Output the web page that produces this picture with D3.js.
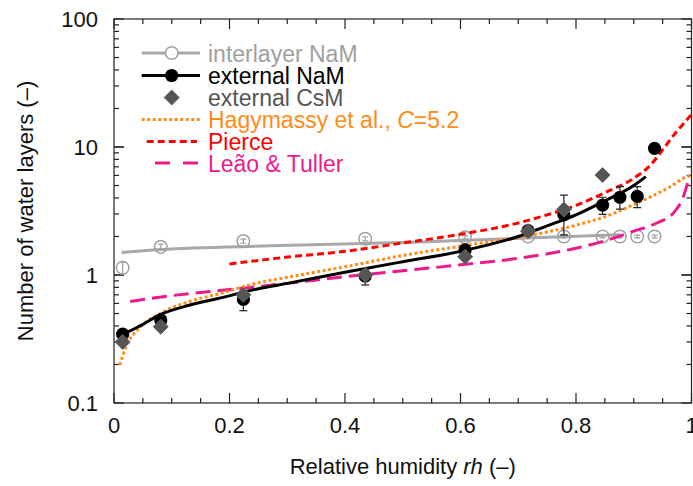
<!DOCTYPE html>
<html><head><meta charset="utf-8">
<script src="https://cdn.jsdelivr.net/npm/d3@7"></script>
<style>body{margin:0;background:#fff}svg{display:block}text{font-family:"Liberation Sans",Arial,Helvetica,sans-serif}</style>
</head><body><svg id="c" width="693" height="486"></svg>
<script>
// ---- data ----
const xTicks = [0, 0.2, 0.4, 0.6, 0.8, 1];
const xTickLabels = ["0", "0.2", "0.4", "0.6", "0.8", "1"];
const yTicks = [0.1, 1, 10, 100];
const yTickLabels = ["0.1", "1", "10", "100"];

const rhInter = [0.015, 0.081, 0.224, 0.435, 0.608, 0.717, 0.779, 0.846, 0.876, 0.906, 0.936];
const nInter  = [1.14, 1.66, 1.84, 1.92, 1.97, 2.0, 2.0, 2.0, 2.0, 2.0, 2.0];
const errInter = [0.12, 0.08, 0.07, 0.07, 0.05, 0.05, 0.05, 0.05, 0.05, 0.05, 0.05];

const rhExt  = [0.015, 0.081, 0.224, 0.435, 0.608, 0.717, 0.779, 0.846, 0.876, 0.906, 0.936];
const nExt   = [0.345, 0.445, 0.645, 0.98, 1.57, 2.22, 2.95, 3.52, 4.05, 4.12, 9.77];
const extLo  = [0.33, 0.42, 0.526, 0.835, 1.5, 2.1, 2.06, 2.98, 3.27, 3.36, 9.5];
const extHi  = [0.36, 0.47, 0.75, 1.1, 1.65, 2.35, 4.2, 4.05, 4.9, 4.9, 10.0];

const rhCs = [0.015, 0.081, 0.224, 0.435, 0.608, 0.717, 0.779, 0.846];
const nCs  = [0.30, 0.394, 0.70, 1.0, 1.39, 2.2, 3.25, 6.04];

const rhInterFit = [0.013, 0.08, 0.27, 0.53, 0.75, 0.876];
const nInterFit  = [1.50, 1.58, 1.69, 1.81, 1.97, 2.06];

const rhExtFit = [0.012, 0.03, 0.045, 0.08, 0.13, 0.18, 0.25, 0.3, 0.4, 0.5, 0.6, 0.7, 0.75, 0.8, 0.85, 0.9, 0.921];
const nExtFit  = [0.345, 0.37, 0.40, 0.49, 0.58, 0.655, 0.78, 0.86, 1.05, 1.27, 1.53, 2.0, 2.42, 2.95, 3.8, 5.0, 5.87];

const rhHag = [0.01, 0.02, 0.045, 0.08, 0.13, 0.18, 0.25, 0.3, 0.4, 0.5, 0.6, 0.7, 0.75, 0.8, 0.85, 0.9, 0.93, 0.96, 0.99, 1.0];
const nHag  = [0.198, 0.27, 0.39, 0.50, 0.62, 0.71, 0.87, 0.96, 1.16, 1.42, 1.68, 1.97, 2.17, 2.45, 2.85, 3.55, 4.1, 4.8, 5.8, 6.0];

const rhPierce = [0.2, 0.3, 0.4, 0.5, 0.6, 0.7, 0.75, 0.8, 0.85, 0.9, 0.93, 0.95, 0.97, 0.985, 1.0];
const nPierce  = [1.22, 1.38, 1.53, 1.78, 2.08, 2.55, 2.95, 3.5, 4.4, 5.7, 7.3, 9.5, 12.5, 15.0, 18.0];

const rhLeao = [0.028, 0.1, 0.2, 0.3, 0.4, 0.5, 0.6, 0.7, 0.8, 0.85, 0.9, 0.94, 0.97, 0.985, 0.995];
const nLeao  = [0.62, 0.69, 0.77, 0.86, 0.97, 1.08, 1.2, 1.35, 1.62, 1.85, 2.2, 2.55, 3.1, 4.0, 5.6];

const legendLabels = ["interlayer NaM", "external NaM", "external CsM", "Hagymassy et al., ", "Pierce", "Leão & Tuller"];

// ---- drawing ----
const svg = d3.select("#c");
const L = 114, R = 691.5, T = 19, B = 403;
const x = d3.scaleLinear().domain([0, 1]).range([L, R]);
const y = d3.scaleLog().domain([0.1, 100]).range([B, T]);
const axisCol = "#222";

svg.append("defs").append("clipPath").attr("id", "clip")
  .append("rect").attr("x", L).attr("y", T).attr("width", R - L).attr("height", B - T);

const g = svg.append("g");

// frame
g.append("rect").attr("x", L).attr("y", T).attr("width", R - L).attr("height", B - T)
  .attr("fill", "none").attr("stroke", axisCol).attr("stroke-width", 1.2);

// x ticks
const xMinor = d3.range(0, 1.0001, 0.05);
xMinor.forEach(v => {
  const major = Math.abs(v * 5 - Math.round(v * 5)) < 1e-6;
  const len = major ? 10 : 5;
  g.append("line").attr("x1", x(v)).attr("x2", x(v)).attr("y1", B).attr("y2", B - len).attr("stroke", axisCol).attr("stroke-width", 1.2);
  g.append("line").attr("x1", x(v)).attr("x2", x(v)).attr("y1", T).attr("y2", T + len).attr("stroke", axisCol).attr("stroke-width", 1.2);
});
xTicks.forEach((v, i) => {
  svg.append("text").attr("x", x(v)).attr("y", 433).attr("text-anchor", "middle")
    .attr("font-size", 22).attr("fill", "#111").text(xTickLabels[i]);
});
// y ticks
[0.1, 1, 10].forEach(dec => {
  for (let k = 1; k <= 10; k++) {
    const v = dec * k;
    if (v > 100.0001) continue;
    const len = (k === 1 || k === 10) ? 10 : 5;
    g.append("line").attr("x1", L).attr("x2", L + len).attr("y1", y(v)).attr("y2", y(v)).attr("stroke", axisCol).attr("stroke-width", 1.2);
    g.append("line").attr("x1", R).attr("x2", R - len).attr("y1", y(v)).attr("y2", y(v)).attr("stroke", axisCol).attr("stroke-width", 1.2);
  }
});
yTicks.forEach((v, i) => {
  svg.append("text").attr("x", 98).attr("y", y(v) + 8).attr("text-anchor", "end")
    .attr("font-size", 22).attr("fill", "#111").text(yTickLabels[i]);
});

// axis titles
const xt = svg.append("text").attr("x", (L + R) / 2).attr("y", 474).attr("text-anchor", "middle")
  .attr("font-size", 22).attr("fill", "#111");
xt.append("tspan").text("Relative humidity ");
xt.append("tspan").attr("font-style", "italic").text("rh");
xt.append("tspan").text(" (–)");
svg.append("text").attr("transform", `translate(33,${(T + B) / 2}) rotate(-90)`).attr("text-anchor", "middle")
  .attr("font-size", 22).attr("fill", "#111").text("Number of water layers (–)");

const line = d3.line().x(d => x(d[0])).y(d => y(d[1])).curve(d3.curveMonotoneX);
const plot = svg.append("g").attr("clip-path", "url(#clip)");

// interlayer fit
plot.append("path").datum(d3.zip(rhInterFit, nInterFit)).attr("d", line)
  .attr("fill", "none").attr("stroke", "#a8a8a8").attr("stroke-width", 3);

// interlayer circles with error bars
rhInter.forEach((r, i) => {
  const cx = x(r), cy = y(nInter[i]);
  const y1 = y(nInter[i] - errInter[i]), y2 = y(nInter[i] + errInter[i]);
  plot.append("line").attr("x1", cx).attr("x2", cx).attr("y1", y1).attr("y2", y2).attr("stroke", "#a0a0a0").attr("stroke-width", 1.2);
  [y1, y2].forEach(yy => plot.append("line").attr("x1", cx - 3).attr("x2", cx + 3).attr("y1", yy).attr("y2", yy).attr("stroke", "#a0a0a0").attr("stroke-width", 1.2));
  plot.append("circle").attr("cx", cx).attr("cy", cy).attr("r", 6.3)
    .attr("fill", "none").attr("stroke", "#a0a0a0").attr("stroke-width", 1.5);
});

// model curves
plot.append("path").datum(d3.zip(rhLeao, nLeao)).attr("d", line)
  .attr("fill", "none").attr("stroke", "#ee1a8c").attr("stroke-width", 3).attr("stroke-dasharray", "15,7");
plot.append("path").datum(d3.zip(rhHag, nHag)).attr("d", line)
  .attr("fill", "none").attr("stroke", "#ff8c1a").attr("stroke-width", 3).attr("stroke-dasharray", "3,2.5");
plot.append("path").datum(d3.zip(rhPierce, nPierce)).attr("d", line)
  .attr("fill", "none").attr("stroke", "#ff0000").attr("stroke-width", 3).attr("stroke-dasharray", "7,4");
plot.append("path").datum(d3.zip(rhExtFit, nExtFit)).attr("d", line)
  .attr("fill", "none").attr("stroke", "#000").attr("stroke-width", 3);

// external NaM with error bars
rhExt.forEach((r, i) => {
  const cx = x(r), y1 = y(extLo[i]), y2 = y(extHi[i]);
  plot.append("line").attr("x1", cx).attr("x2", cx).attr("y1", y1).attr("y2", y2).attr("stroke", "#222").attr("stroke-width", 1.2);
  [y1, y2].forEach(yy => plot.append("line").attr("x1", cx - 4).attr("x2", cx + 4).attr("y1", yy).attr("y2", yy).attr("stroke", "#222").attr("stroke-width", 1.2));
});
rhExt.forEach((r, i) => {
  plot.append("circle").attr("cx", x(r)).attr("cy", y(nExt[i])).attr("r", 6.6).attr("fill", "#000");
});
// CsM diamonds
const diamond = (cx, cy, s) => `M${cx},${cy - s}L${cx + s},${cy}L${cx},${cy + s}L${cx - s},${cy}Z`;
rhCs.forEach((r, i) => {
  plot.append("path").attr("d", diamond(x(r), y(nCs[i]), 7.5)).attr("fill", "#555").attr("stroke", "#666").attr("stroke-width", 1);
});

// legend
const lx1 = 141.7, lx2 = 200, mx = 171.7, tx = 208;
const rows = [53, 75.5, 97.5, 119.5, 141.5, 163];
const cols = ["#a0a0a0", "#000", "#555", "#ff8c1a", "#ff0000", "#ee1a8c"];
const leg = svg.append("g");
leg.append("line").attr("x1", lx1).attr("x2", lx2).attr("y1", rows[0]).attr("y2", rows[0]).attr("stroke", "#a8a8a8").attr("stroke-width", 3);
leg.append("circle").attr("cx", mx).attr("cy", rows[0]).attr("r", 6.3).attr("fill", "#fff").attr("stroke", "#a0a0a0").attr("stroke-width", 1.5);
leg.append("line").attr("x1", lx1).attr("x2", lx2).attr("y1", rows[1]).attr("y2", rows[1]).attr("stroke", "#000").attr("stroke-width", 3);
leg.append("circle").attr("cx", mx).attr("cy", rows[1]).attr("r", 6.6).attr("fill", "#000");
leg.append("path").attr("d", diamond(mx, rows[2], 7.5)).attr("fill", "#555").attr("stroke", "#666");
leg.append("line").attr("x1", lx1).attr("x2", lx2).attr("y1", rows[3]).attr("y2", rows[3]).attr("stroke", "#ff8c1a").attr("stroke-width", 3).attr("stroke-dasharray", "3,2.5");
leg.append("line").attr("x1", 146.7).attr("x2", 197).attr("y1", rows[4]).attr("y2", rows[4]).attr("stroke", "#ff0000").attr("stroke-width", 3).attr("stroke-dasharray", "7,4");
leg.append("line").attr("x1", 155).attr("x2", 198).attr("y1", rows[5]).attr("y2", rows[5]).attr("stroke", "#ee1a8c").attr("stroke-width", 3).attr("stroke-dasharray", "15,13");
legendLabels.forEach((t, i) => {
  const te = leg.append("text").attr("x", tx).attr("y", rows[i] + 8.5).attr("font-size", 23).attr("fill", cols[i]).text(t);
  if (i === 3) {
    te.append("tspan").attr("font-style", "italic").text("C");
    te.append("tspan").text("=5.2");
  }
});
</script></body></html>
